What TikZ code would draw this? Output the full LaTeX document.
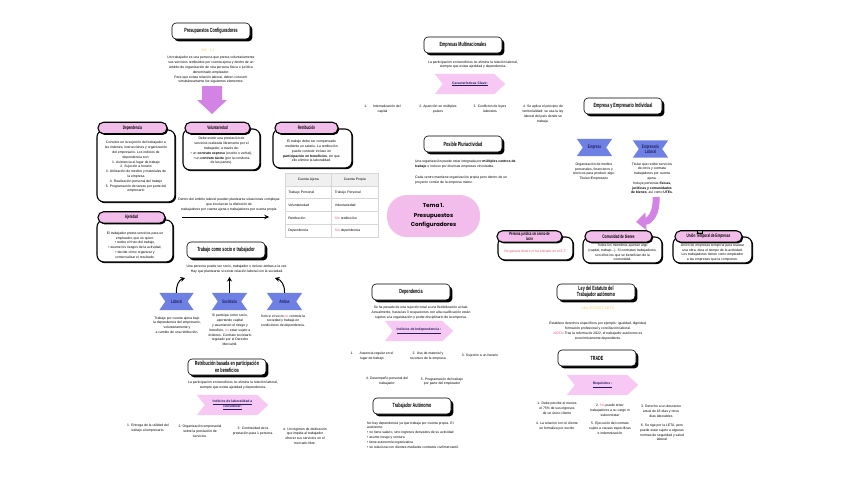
\documentclass[tikz,border=0pt]{standalone}
\usepackage{fontspec}
\usepackage{xcolor}
\setmainfont{Liberation Sans}
\newfontfamily\headfont{Liberation Sans}[FakeStretch=0.62]
\newfontfamily\temafont{Poppins}
\usetikzlibrary{shadows,backgrounds,matrix,arrows.meta}
\definecolor{pinkfill}{HTML}{F3BDEB}
\definecolor{chevronpink}{HTML}{F8C8F4}
\definecolor{arrowpurple}{HTML}{D283E4}
\definecolor{bannerblue}{HTML}{6E80E4}
\definecolor{navytext}{HTML}{221F5E}
\definecolor{goldtext}{HTML}{F2D36B}
\definecolor{redtext}{HTML}{E5506A}
\definecolor{tablegray}{HTML}{D6D6D6}
\newcommand{\txt}{\fontsize{3.4}{4.8}\selectfont}
\newcommand{\hd}{\headfont\bfseries\fontsize{6}{6.6}\selectfont}
\newcommand{\hdsmall}{\headfont\bfseries\fontsize{5}{5}\selectfont}
\newcommand{\rojo}[1]{\textcolor{redtext}{#1}}
\tikzset{
    heading-box/.style = {draw=black, fill=white, line width=0.6pt, rounded corners=4pt, minimum width=78pt, minimum height=16pt, inner sep=1pt, align=center, font=\hd, drop shadow={shadow xshift=2.4pt, shadow yshift=-2.4pt, opacity=1, fill=black}},
    info-box/.style = {draw=black, fill=white, line width=1.1pt, rounded corners=7pt, drop shadow={shadow xshift=1.2pt, shadow yshift=-1.2pt, opacity=1, fill=black}},
    info-title/.style = {draw=black, fill=pinkfill, line width=1.1pt, rounded corners=5.5pt, minimum height=11.5pt, inner sep=0.5pt, align=center, font=\hdsmall, drop shadow={shadow xshift=1.2pt, shadow yshift=-1.2pt, opacity=1, fill=black}},
    body-text/.style = {align=center, font=\txt, inner sep=0pt},
    left-text/.style = {align=left, font=\txt, inner sep=0pt, anchor=north west},
    gold-text/.style = {font=\fontsize{4}{4}\selectfont, text=goldtext, inner sep=0pt},
    ribbon-label/.style = {font=\hdsmall, text=navytext, align=center, minimum height=17pt, inner sep=0pt},
    chevron-label/.style = {font=\txt\bfseries, text=navytext, align=center, minimum height=20pt, inner sep=0pt},
    tema-box/.style = {fill=pinkfill, rounded corners=20pt, minimum width=93pt, minimum height=42pt, align=center, font=\temafont\bfseries\fontsize{5.6}{9.3}\selectfont},
    curve-arrow/.style = {line width=1pt, -{Stealth[length=4.5pt,width=5pt]}},
}
\newcommand{\ribbonat}[4]{%
  \node[ribbon-label, minimum width=#3] (#1) at (#2) {#4};
  \begin{scope}[on background layer]
    \fill[bannerblue] (#1.north west) -- (#1.north east) -- ([xshift=-6pt]#1.east) -- (#1.south east) -- (#1.south west) -- ([xshift=6pt]#1.west) -- cycle;
  \end{scope}}
\newcommand{\chevronat}[4]{%
  \node[chevron-label, minimum width=#3] (#1) at (#2) {#4};
  \begin{scope}[on background layer]
    \fill[chevronpink] (#1.north west) -- ([xshift=-11pt]#1.north east) -- (#1.east) -- ([xshift=-11pt]#1.south east) -- (#1.south west) -- ([xshift=8pt]#1.west) -- cycle;
  \end{scope}}

\begin{document}
\begin{tikzpicture}[x=1pt, y=-1pt]
\begin{scope}[on background layer]
\fill[white] (0,0) rectangle (848,477);
\end{scope}
\useasboundingbox (0,0) rectangle (848,477);

\node[heading-box] (presupuestos) at (211,31) {Presupuestos Configuradores};
\node[gold-text] (art) at (208,50) {Art. 1.1};
\node[body-text] (def-text) at (211,70) {Un trabajador es una persona que presta voluntariamente\\sus servicios retribuidos por cuenta ajena y dentro de un\\ámbito de organización de otra persona física o jurídica\\denominado empleador.\\Para que exista relación laboral, deben concurrir\\simultáneamente los siguientes elementos:};
\fill[arrowpurple] (202,86) -- (222,86) -- (222,100) -- (227,100) -- (212,114) -- (197,100) -- (202,100) -- cycle;

\node[info-box, minimum width=78pt, minimum height=72pt] (dep-box) at (136,166) {};
\node[info-title, minimum width=69pt] (dep-title) at (132.5,128) {Dependencia};
\node[body-text] (dep-text) at (136,167) {Consiste en la sujeción del trabajador a\\las órdenes, instrucciones y organización\\del empresario. Los indicios de\\dependencia son:\\1. Asistencia al lugar de trabajo\\2. Sujeción a horario\\3. Utilización de medios y materiales de\\la empresa\\4. Realización personal del trabajo\\5. Programación de tareas por parte del\\empresario};

\node[info-box, minimum width=77pt, minimum height=41pt] (vol-box) at (221.5,149.5) {};
\node[info-title, minimum width=65pt] (vol-title) at (217.5,128) {Voluntariedad};
\node[body-text] (vol-text) at (221.5,151) {Debe existir una prestación de\\servicios realizada libremente por el\\trabajador, a través de:\\• un \textbf{contrato expreso} (escrito o verbal),\\• un \textbf{contrato tácito} (por la conducta\\de las partes).};

\node[info-box, minimum width=79pt, minimum height=39pt] (ret-box) at (312.5,148.5) {};
\node[info-title, minimum width=63pt] (ret-title) at (306.5,128) {Retribución};
\node[body-text] (ret-text) at (311.5,151) {El trabajo debe ser compensado\\mediante un salario. La retribución\\puede consistir incluso en\\\textbf{participación en beneficios}, sin que\\ello elimine la laboralidad.};

\node[info-box, minimum width=76pt, minimum height=42pt] (aje-box) at (135,241) {};
\node[info-title, minimum width=67pt] (aje-title) at (131.5,217.5) {Ajenidad};
\node[body-text] (aje-text) at (135,245) {El trabajador presta servicios para un\\empleador, que es quien:\\• recibe el fruto del trabajo,\\• asume los riesgos de la actividad,\\• decide cómo organizar y\\comercializar el resultado.};

\matrix[matrix of nodes, nodes={draw=tablegray, line width=0.4pt, minimum width=46.5pt, minimum height=12.8pt, font=\txt, text width=40pt, align=left, inner xsep=3pt, inner ysep=0pt}, column sep=-0.4pt, row sep=-0.4pt, row 1/.style={nodes={fill=gray!12, align=center}}] (tabla) at (331.5,205) {
Cuenta Ajena & Cuenta Propia \\
Trabajo Personal & Trabajo Personal \\
Voluntariedad & Voluntariedad \\
Retribución & \rojo{Sin} retribución \\
Dependencia & \rojo{Sin} dependencia \\
};
\node[body-text] (ambito-text) at (229,204.5) {Dentro del ámbito laboral pueden plantearse situaciones complejas\\que involucran la distinción de\\trabajadores por cuenta ajena o trabajadores por cuenta propia};
\coordinate (ambito-flecha) at (182,217);
\draw[line width=1pt, -{Stealth[length=5pt,width=4.5pt]}, shorten >=12pt] (ambito-flecha) -- (ambito-flecha -| tabla.west);

\node[heading-box] (socio) at (226,250) {Trabajo como socio o trabajador};
\node[body-text] (socio-text) at (237,269) {Una persona puede ser socio, trabajador o incluso ambas a la vez.\\Hay que plantearse si existe relación laboral con la sociedad.};
\ribbonat{laboral}{176.5,301.5}{34pt}{Laboral}
\ribbonat{societaria}{229.5,301.5}{35pt}{Societaria}
\ribbonat{ambas}{284.5,301.5}{35pt}{Ambas}
\coordinate (laboral-tip) at (185,278);
\coordinate (societaria-tip) at (229.5,277);
\coordinate (ambas-tip) at (275,278);
\draw[curve-arrow] (laboral.north) .. controls (176,285) and (179,280) .. (laboral-tip);
\draw[curve-arrow] (societaria.north) -- (societaria-tip);
\draw[curve-arrow] (ambas.north) .. controls (285,285) and (281,280) .. (ambas-tip);
\node[body-text] (laboral-text) at (177,325) {Trabajo por cuenta ajena bajo\\la dependencia del empresario,\\voluntariamente y\\a cambio de una retribución.};
\node[body-text] (societaria-text) at (230,330) {Si participa como socio,\\aportando capital\\y asumiendo el riesgo y\\beneficio, \rojo{no} estar sujeto a\\órdenes. Contrato societario\\regulado por el Derecho\\Mercantil.};
\node[body-text] (ambas-text) at (283,321) {Solo si el socio \rojo{no} controla la\\sociedad y trabaja en\\condiciones de dependencia.};

\node[heading-box] (beneficios) at (227,367) {Retribución basada en participación\\en beneficios};
\node[body-text] (beneficios-text) at (233,385) {La participación en beneficios no elimina la relación laboral,\\siempre que exista ajenidad y dependencia.};
\chevronat{laboralidad}{232.5,405}{71pt}{\underline{Indicios de laboralidad a}\\\underline{considerar:}}
\node[body-text] (lab-1) at (148,428.5) {1. Entrega de la utilidad del\\trabajo al empresario.};
\node[body-text] (lab-2) at (200,431) {2. Organización empresarial\\sobre la prestación de\\servicios.};
\node[body-text] (lab-3) at (253,431) {3. Continuidad de la\\prestación para 1 persona.};
\node[body-text] (lab-4) at (305,436) {4. Un régimen de dedicación\\que impida al trabajador\\ofrecer sus servicios en el\\mercado libre.};

\node[heading-box] (multinacionales) at (463,45) {Empresas Multinacionales};
\node[body-text] (multi-text) at (473,64.5) {La participación en beneficios no elimina la relación laboral,\\siempre que exista ajenidad y dependencia.};
\chevronat{claves}{470,84}{70pt}{\underline{Características Clave:}};
\node[body-text] (multi-1) at (382.5,109) {1.\hspace{6pt}Internalización del\\capital};
\node[body-text] (multi-2) at (438,109) {2. Aparición en múltiples\\países};
\node[body-text] (multi-3) at (490,109) {3. Conflictos de leyes\\laborales};
\node[body-text] (multi-4) at (543,114) {4. Se aplica el principio de\\territorialidad: se usa la ley\\laboral del país donde se\\trabaja.};

\node[heading-box] (pluriactividad) at (463,144) {Posible Pluriactividad};
\node[left-text] (pluri-text) at (415,159.5) {Una organización puede estar integrada por \textbf{múltiples centros de}\\\textbf{trabajo} o incluso por diversas empresas vinculadas.};
\node[left-text] (pluri-text2) at (415,175.5) {Cada centro mantiene organización propia pero dentro de un\\proyecto común de la empresa matriz.};

\node[tema-box] (tema) at (433.5,216) {Tema 1.\\Presupuestos\\Configuradores};

\node[heading-box] (empresario) at (623,106) {Empresa y Empresario Individual};
\ribbonat{empresa}{594.5,147.5}{35pt}{Empresa}
\ribbonat{emp-laboral}{650.5,149}{35pt}{Empresario\\Laboral}
\node[body-text] (empresa-text) at (594,171.5) {Organización de medios\\personales, financieros y\\técnicos para producir algo.\\Titular=Empresario};
\node[body-text] (emp-laboral-text) at (652,178.5) {Titular que recibe servicios\\de otros y contrata\\trabajadores por cuenta\\ajena.\\Incluye personas \textbf{físicas,}\\\textbf{jurídicas y comunidades}\\\textbf{de bienes}, así como \textbf{UTEs}.};
\coordinate (curva-ini) at (656,197);
\coordinate (curva-fin) at (636,222);
\draw[arrowpurple, line width=7pt, -{Triangle[length=10pt,width=17pt]}] (curva-ini) .. controls (657,213) and (650,221) .. (curva-fin);

\node[info-box, minimum width=75pt, minimum height=23pt] (sinanimo-box) at (535.5,248.5) {};
\node[info-title, minimum width=65pt, font=\headfont\bfseries\fontsize{4.6}{4.4}\selectfont] (sinanimo-title) at (529.5,236.5) {Persona jurídica sin ánimo de\\lucro};
\node[body-text, text=redtext] (sinanimo-text) at (535.5,252) {No genera dinero ni ha entrado en el E.T.};

\node[info-box, minimum width=79pt, minimum height=26pt] (comunidad-box) at (622.5,250) {};
\node[info-title, minimum width=67pt] (comunidad-title) at (618.5,236.5) {Comunidad de bienes};
\node[body-text] (comunidad-text) at (622.5,252.5) {Todos los miembros aportan algo\\(capital, trabajo...). Si contratan trabajadores,\\son ellos los que se benefician de la\\comunidad.};

\node[info-box, minimum width=79pt, minimum height=26pt] (ute-box) at (712.5,250) {};
\node[info-title, minimum width=67pt] (ute-title) at (708.5,236.5) {Unión Temporal de Empresas};
\node[inner sep=0.3pt, draw=black, fill=white, font=\headfont\bfseries\fontsize{3.4}{3.4}\selectfont] (ute-sigla) at (700,232) {UTE};
\node[body-text] (ute-text) at (712.5,252.5) {Unión de empresas temporal para realizar\\una obra, dura el tiempo de la actividad.\\Los trabajadores tienen como empleador\\a las empresas que la componen.};

\node[heading-box] (dependencia) at (411,292) {Dependencia};
\node[body-text] (dependencia-text) at (421,312.5) {Se ha pasado de una sujeción total a una flexibilización actual.\\Actualmente, hasta las 3 ocupaciones con alta cualificación están\\sujetos a la organización y poder disciplinario de la empresa.};
\chevronat{independencia}{419,331}{68pt}{\underline{Indicios de Independencia :}}
\node[body-text] (indep-1) at (372,356.5) {1.\hspace{6pt}Ausencia regular en el\\lugar de trabajo};
\node[body-text] (indep-2) at (428,356.5) {2. Uso de material y\\recursos de la empresa};
\node[body-text] (indep-3) at (480,355.5) {3. Sujeción a un horario};
\node[body-text] (indep-4) at (387,381.5) {4. Desempeño personal del\\trabajador};
\node[body-text] (indep-5) at (442,381.5) {5. Programación del trabajo\\por parte del empleador};

\node[heading-box] (autonomo) at (412,406) {Trabajador Autónomo};
\node[left-text] (autonomo-text) at (367,421.5) {No hay dependencia ya que trabaja por cuenta propia. El\\autónomo:\\• no tiene salario, sino ingresos derivados de su actividad\\• asume riesgo y ventura\\• tiene autonomía organizativa\\• se relaciona con clientes mediante contratos civil/mercantil.};

\node[heading-box] (leta) at (596,292) {Ley del Estatuto del\\Trabajador autónomo};
\node[gold-text] (leta-ley) at (598,308.5) {Ley 20/2007 LETA};
\node[body-text] (leta-text) at (598,331) {Establece derechos específicos por ejemplo: igualdad, dignidad,\\formación profesional y conciliación laboral.\\\rojo{NOTA}: Tras la reforma de 2022, el trabajador autónomo es\\económicamente dependiente.};
\node[heading-box] (trade) at (597,358) {TRADE};
\chevronat{requisitos}{602.5,385}{71pt}{\underline{Requisitos :}}
\node[body-text] (trade-1) at (557,408.5) {1. Debe percibir al menos\\el 75\% de sus ingresos\\de un único cliente};
\node[body-text] (trade-2) at (610,410) {2. \rojo{No} puede tener\\trabajadores a su cargo ni\\subcontratar};
\node[body-text] (trade-3) at (661,411.5) {3. Derecho a un descanso\\anual de 18 días y otros\\días laborables};
\node[body-text] (trade-4) at (557,426) {4. La relación con el cliente\\se formaliza por escrito};
\node[body-text] (trade-5) at (610,428.5) {5. Ejecución del contrato\\sujeto a causas específicas\\e indemnización};
\node[body-text] (trade-6) at (662,432.5) {6. Se rige por la LETA, pero\\puede estar sujeto a algunas\\normas de seguridad y salud\\laboral};
\end{tikzpicture}
\end{document}
